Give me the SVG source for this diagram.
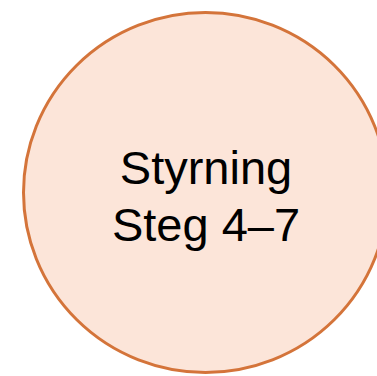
<svg xmlns="http://www.w3.org/2000/svg" width="377" height="376" viewBox="0 0 377 376">
<style>
.node{fill:#FCE5D9;stroke:#D4743A;stroke-width:3}
.lbl{font-family:"Liberation Sans",Arial,sans-serif;font-size:47px;fill:#000;text-anchor:middle}
</style>
<rect width="377" height="376" fill="#fff"/>
<g id="connectors"/>
<g id="node-styrning">
<ellipse class="node" cx="205.5" cy="192.5" rx="182" ry="180"/>
<text class="lbl" x="206" y="184">Styrning</text>
<text class="lbl" x="206" y="241">Steg 4–7</text>
</g>
</svg>
